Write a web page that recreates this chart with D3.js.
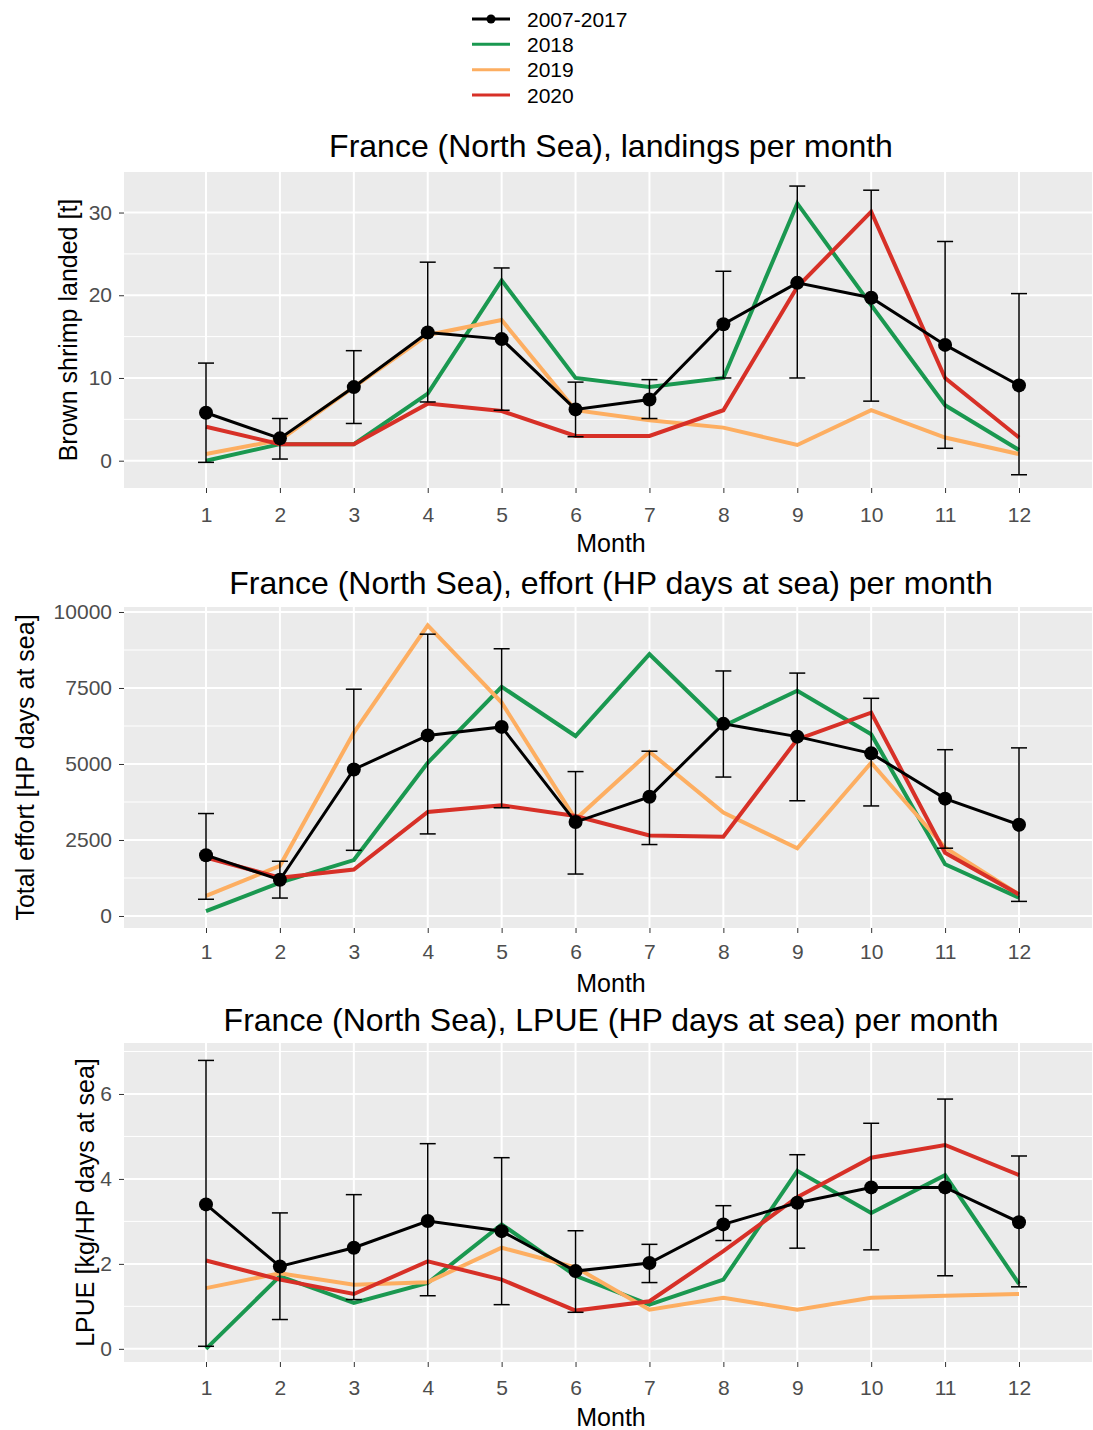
<!DOCTYPE html>
<html lang="en">
<head>
    <meta charset="UTF-8">
</head>
<style>
    body{
        margin:0;
        width:1093px;
        height:1430px;
        background:#fff;
        font-family:"Liberation Sans", Arial, sans-serif;
    }
    #chart{
        width:1093px;
        height:1430px;
        display:block;
    }
</style>
<script src="https://d3js.org/d3.v7.min.js"></script>
<body>

<svg id="chart"></svg>

<script>
    // data
    var months = [1, 2, 3, 4, 5, 6, 7, 8, 9, 10, 11, 12];
    var seriesNames = ["2007-2017", "2018", "2019", "2020"];

    // landings [t]
    var landMean = [5.8, 2.7, 8.9, 15.5, 14.7, 6.2, 7.4, 16.5, 21.5, 19.7, 14.0, 9.1];
    var landLow  = [-0.2, 0.2, 4.5, 7.1, 6.1, 2.9, 5.1, 10.0, 10.0, 7.2, 1.5, -1.7];
    var landHigh = [11.8, 5.1, 13.3, 24.0, 23.3, 9.5, 9.8, 22.9, 33.2, 32.7, 26.5, 20.2];
    var land2018 = [0, 2.0, 2.0, 8.1, 21.8, 10.0, 8.9, 10.0, 31.1, 18.8, 6.7, 1.3];
    var land2019 = [0.8, 2.5, 8.9, 15.2, 17.0, 6.1, 4.9, 4.0, 1.9, 6.1, 2.8, 0.8];
    var land2020 = [4.1, 2.0, 2.0, 6.9, 6.0, 3.0, 3.0, 6.1, 21.0, 30.1, 10.0, 2.8];

    // effort [HP days at sea]
    var effMean = [2000, 1190, 4820, 5940, 6220, 3090, 3920, 6320, 5900, 5350, 3860, 3000];
    var effLow  = [550, 590, 2160, 2700, 3560, 1380, 2350, 4570, 3790, 3620, 2230, 480];
    var effHigh = [3370, 1800, 7460, 9270, 8790, 4750, 5420, 8060, 7990, 7160, 5470, 5530];
    var eff2018 = [160, 1100, 1840, 5040, 7540, 5920, 8610, 6250, 7410, 5980, 1700, 600];
    var eff2019 = [660, 1650, 6030, 9560, 7020, 3180, 5400, 3400, 2230, 5040, 2250, 710];
    var eff2020 = [1920, 1260, 1530, 3420, 3640, 3290, 2650, 2610, 5810, 6690, 2080, 710];

    // LPUE [kg/HP days at sea]
    var lpueMean = [3.40, 1.94, 2.38, 3.01, 2.77, 1.83, 2.02, 2.93, 3.44, 3.80, 3.80, 2.98];
    var lpueLow  = [0.06, 0.69, 1.16, 1.25, 1.04, 0.86, 1.56, 2.55, 2.37, 2.33, 1.72, 1.46];
    var lpueHigh = [6.79, 3.20, 3.63, 4.83, 4.50, 2.78, 2.46, 3.37, 4.57, 5.31, 5.88, 4.54];
    var lpue2018 = [0.0, 1.71, 1.08, 1.55, 2.93, 1.72, 1.04, 1.63, 4.19, 3.20, 4.09, 1.53];
    var lpue2019 = [1.43, 1.78, 1.51, 1.57, 2.38, 1.92, 0.92, 1.20, 0.92, 1.20, 1.25, 1.29];
    var lpue2020 = [2.08, 1.63, 1.29, 2.06, 1.63, 0.90, 1.12, 2.30, 3.57, 4.50, 4.80, 4.09];

    var colors = {"2007-2017": "#000000", "2018": "#1a9850", "2019": "#fdae61", "2020": "#d73027"};

    var panels = [
        {title: "France (North Sea), landings per month", ylab: "Brown shrimp landed [t]",
         top: 172, bottom: 488, yDomain: [-3.3, 34.9], major: [0, 10, 20, 30], minor: [5, 15, 25],
         titleY: 146, ylabX: 68, xPad: 14,
         mean: landMean, low: landLow, high: landHigh, years: [land2018, land2019, land2020]},
        {title: "France (North Sea), effort (HP days at sea) per month", ylab: "Total effort [HP days at sea]",
         top: 607, bottom: 928, yDomain: [-395, 10164], major: [0, 2500, 5000, 7500, 10000], minor: [1250, 3750, 6250, 8750],
         titleY: 583, ylabX: 25, xPad: 11,
         mean: effMean, low: effLow, high: effHigh, years: [eff2018, eff2019, eff2020]},
        {title: "France (North Sea), LPUE (HP days at sea) per month", ylab: "LPUE [kg/HP days at sea]",
         top: 1043, bottom: 1362, yDomain: [-0.31, 7.2], major: [0, 2, 4, 6], minor: [1, 3, 5, 7],
         titleY: 1020, ylabX: 85, xPad: 13,
         mean: lpueMean, low: lpueLow, high: lpueHigh, years: [lpue2018, lpue2019, lpue2020]}
    ];

    var left = 124, right = 1092;
    var svg = d3.select("#chart");

    var x = d3.scaleLinear().domain([1, 12]).range([206, 1019]);

    panels.forEach(function(p, i) {
        var y = d3.scaleLinear().domain(p.yDomain).range([p.bottom, p.top]);
        var g = svg.append("g");

        g.append("rect")
            .attr("x", left).attr("y", p.top)
            .attr("width", right - left).attr("height", p.bottom - p.top)
            .attr("fill", "#ebebeb");

        g.selectAll(".minor")
            .data(p.minor)
            .enter().append("line")
            .attr("x1", left).attr("x2", right)
            .attr("y1", function(d) { return y(d); })
            .attr("y2", function(d) { return y(d); })
            .attr("stroke", "#fff").attr("stroke-width", 1);

        g.selectAll(".major")
            .data(p.major)
            .enter().append("line")
            .attr("x1", left).attr("x2", right)
            .attr("y1", function(d) { return y(d); })
            .attr("y2", function(d) { return y(d); })
            .attr("stroke", "#fff").attr("stroke-width", 2);

        g.selectAll(".vgrid")
            .data(months)
            .enter().append("line")
            .attr("x1", function(d) { return x(d); })
            .attr("x2", function(d) { return x(d); })
            .attr("y1", p.top).attr("y2", p.bottom)
            .attr("stroke", "#fff").attr("stroke-width", 2);

        // axes
        var xAxis = g.append("g")
            .attr("transform", "translate(0," + p.bottom + ")")
            .call(d3.axisBottom(x).tickValues(months).tickSize(5).tickPadding(p.xPad).tickFormat(d3.format("d")));
        var yAxis = g.append("g")
            .attr("transform", "translate(" + left + ",0)")
            .call(d3.axisLeft(y).tickValues(p.major).tickSize(5).tickPadding(7).tickFormat(d3.format("d")));
        [xAxis, yAxis].forEach(function(a) {
            a.select(".domain").remove();
            a.selectAll(".tick line").attr("stroke", "#333").attr("stroke-width", 1);
            a.selectAll(".tick text")
                .attr("fill", "#4d4d4d")
                .style("font-size", "21px")
                .style("font-family", "'Liberation Sans', Arial, sans-serif");
        });

        var line = d3.line()
            .x(function(d, j) { return x(months[j]); })
            .y(function(d) { return y(d); });

        p.years.forEach(function(vals, k) {
            g.append("path")
                .attr("d", line(vals))
                .attr("fill", "none")
                .attr("stroke", colors[seriesNames[k + 1]])
                .attr("stroke-width", 4)
                .attr("stroke-linejoin", "miter");
        });

        g.append("path")
            .attr("d", line(p.mean))
            .attr("fill", "none")
            .attr("stroke", "#000")
            .attr("stroke-width", 3);

        // error bars
        var eb = g.selectAll(".eb")
            .data(months)
            .enter().append("g");
        eb.append("line")
            .attr("x1", function(d) { return x(d); })
            .attr("x2", function(d) { return x(d); })
            .attr("y1", function(d, j) { return y(p.low[j]); })
            .attr("y2", function(d, j) { return y(p.high[j]); })
            .attr("stroke", "#000").attr("stroke-width", 1.5);
        eb.append("line")
            .attr("x1", function(d) { return x(d) - 8; })
            .attr("x2", function(d) { return x(d) + 8; })
            .attr("y1", function(d, j) { return y(p.low[j]); })
            .attr("y2", function(d, j) { return y(p.low[j]); })
            .attr("stroke", "#000").attr("stroke-width", 1.5);
        eb.append("line")
            .attr("x1", function(d) { return x(d) - 8; })
            .attr("x2", function(d) { return x(d) + 8; })
            .attr("y1", function(d, j) { return y(p.high[j]); })
            .attr("y2", function(d, j) { return y(p.high[j]); })
            .attr("stroke", "#000").attr("stroke-width", 1.5);

        g.selectAll(".pt")
            .data(months)
            .enter().append("circle")
            .attr("cx", function(d) { return x(d); })
            .attr("cy", function(d, j) { return y(p.mean[j]); })
            .attr("r", 7)
            .attr("fill", "#000");

        // titles
        g.append("text")
            .attr("x", (left + right) / 2 + 3).attr("y", p.titleY)
            .attr("text-anchor", "middle").attr("dominant-baseline", "central")
            .style("font-size", "32px")
            .text(p.title);
        g.append("text")
            .attr("x", (left + right) / 2 + 3).attr("y", p.bottom + 55)
            .attr("text-anchor", "middle").attr("dominant-baseline", "central")
            .style("font-size", "25px")
            .text("Month");
        g.append("text")
            .attr("transform", "translate(" + p.ylabX + "," + ((p.top + p.bottom) / 2) + ") rotate(-90)")
            .attr("text-anchor", "middle").attr("dominant-baseline", "central")
            .style("font-size", "25px")
            .text(p.ylab);
    });

    // legend
    var legend = svg.append("g");
    var ly = d3.scalePoint().domain(seriesNames).range([19, 95]);
    seriesNames.forEach(function(name) {
        legend.append("line")
            .attr("x1", 472).attr("x2", 510)
            .attr("y1", ly(name)).attr("y2", ly(name))
            .attr("stroke", colors[name])
            .attr("stroke-width", 3);
        if (name === "2007-2017") {
            legend.append("circle")
                .attr("cx", 491).attr("cy", ly(name)).attr("r", 4.5).attr("fill", "#000");
        }
        legend.append("text")
            .attr("x", 527).attr("y", ly(name))
            .attr("dominant-baseline", "central")
            .style("font-size", "21px")
            .text(name);
    });
</script>
</body>
</html>
